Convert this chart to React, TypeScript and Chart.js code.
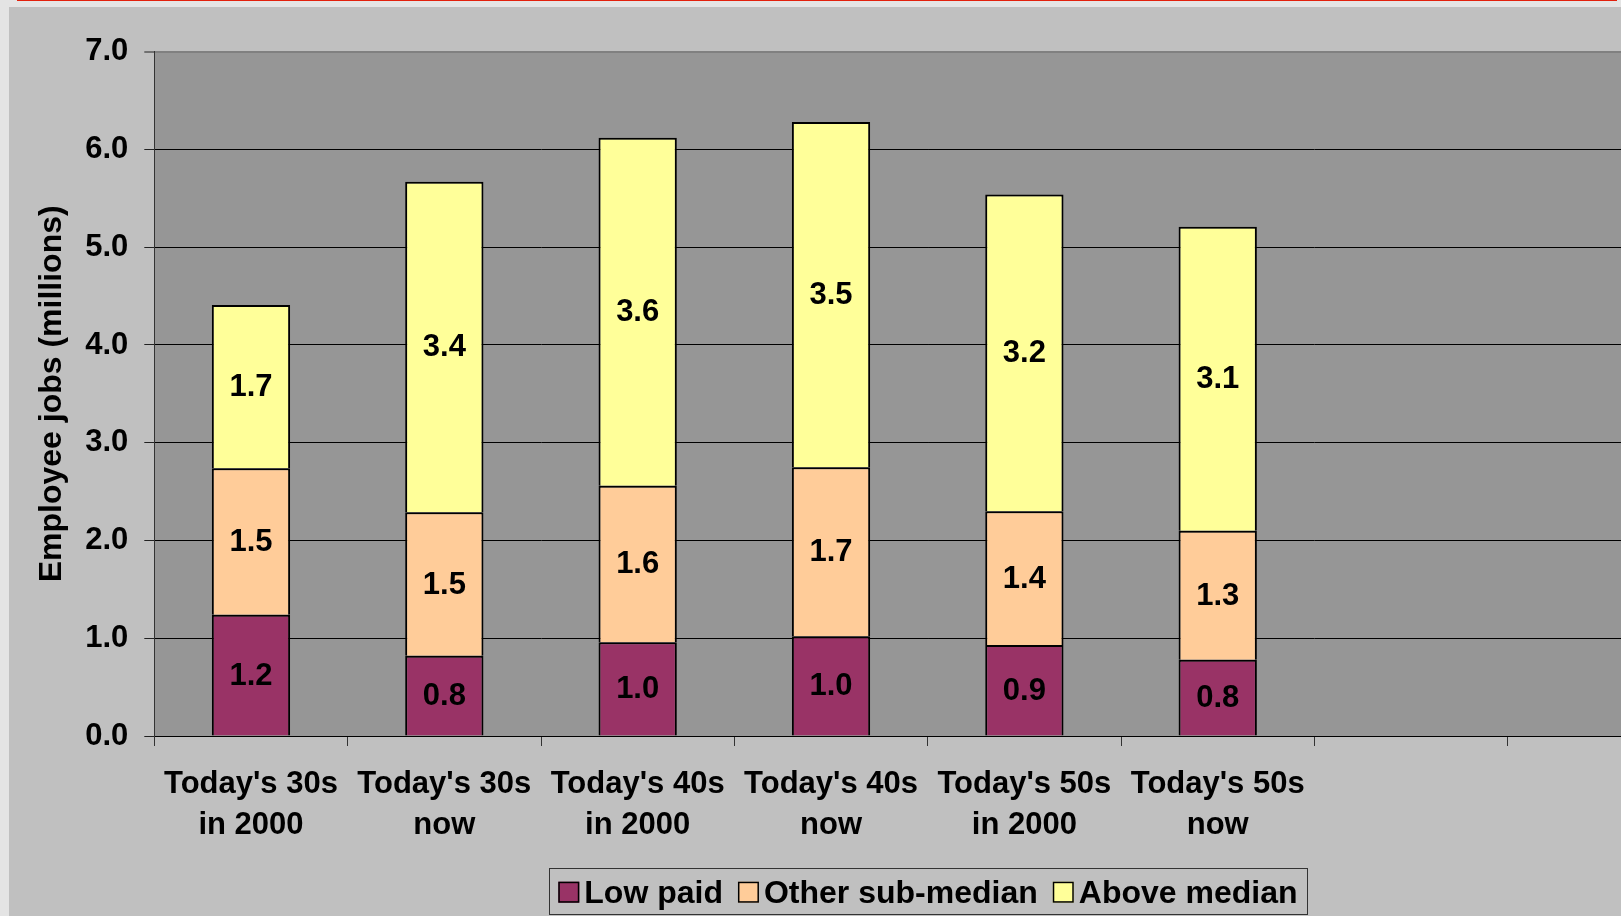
import { useEffect, useRef } from "react";
import { Chart, registerables } from "chart.js";

Chart.register(...registerables);

const FONT = '"Liberation Sans", Arial, Helvetica, sans-serif';

// Age cohorts (two empty slots keep the Excel-style spacing on the right)
const categories: (string | string[])[] = [
  ["Today's 30s", "in 2000"],
  ["Today's 30s", "now"],
  ["Today's 40s", "in 2000"],
  ["Today's 40s", "now"],
  ["Today's 50s", "in 2000"],
  ["Today's 50s", "now"],
  "",
  "",
];

// Employee jobs, millions
const lowPaid = [1.24, 0.82, 0.96, 1.02, 0.93, 0.78];
const otherSubMedian = [1.5, 1.47, 1.6, 1.73, 1.37, 1.32];
const aboveMedian = [1.67, 3.38, 3.56, 3.53, 3.24, 3.11];

const seriesNames = ["Low paid", "Other sub-median", "Above median"];
const seriesColors = ["#993366", "#FFCC99", "#FFFF99"];

const yMin = 0;
const yMax = 7;
const yStep = 1;
const yTitle = "Employee jobs (millions)";

const CANVAS_W = 1720;
const CANVAS_H = 930;

// Grey plot-area fill behind grid and bars
const plotBackground = {
  id: "plotBackground",
  beforeDraw(chart: any) {
    const { ctx, chartArea } = chart;
    const { left, top, right, bottom } = chartArea;
    ctx.save();
    ctx.fillStyle = "#969696";
    ctx.fillRect(left, top, right - left, bottom - top);
    ctx.restore();
  },
};

// Value text centred inside every stacked segment
const segmentLabels = {
  id: "segmentLabels",
  afterDatasetsDraw(chart: any) {
    const { ctx } = chart;
    ctx.save();
    ctx.font = `bold 31px ${FONT}`;
    ctx.fillStyle = "#000";
    ctx.textAlign = "center";
    ctx.textBaseline = "middle";
    chart.data.datasets.forEach((ds: any, i: number) => {
      const meta = chart.getDatasetMeta(i);
      meta.data.forEach((el: any, j: number) => {
        const v = ds.data[j];
        if (v == null) return;
        const { x, y, base } = el.getProps(["x", "y", "base"], true);
        ctx.fillText(Number(v).toFixed(1), x, (y + base) / 2 + 1);
      });
    });
    ctx.restore();
  },
};

// Boxed legend row under the axis labels
const boxedLegend = {
  id: "boxedLegend",
  afterDraw(chart: any) {
    const { ctx } = chart;
    const left = 540;
    const top = 860.5;
    const height = 46;
    const padL = 9.3;
    const padR = 10;
    const marker = 21;
    const gapText = 5;
    const gapItem = 15;
    const baseline = 895.7;

    ctx.save();
    ctx.font = `bold 32px ${FONT}`;
    const items = chart.data.datasets.map((ds: any) => ({
      text: ds.label as string,
      color: ds.backgroundColor as string,
      w: ctx.measureText(ds.label).width,
    }));
    let width = padL + padR;
    items.forEach((it: any, k: number) => {
      width += marker + gapText + it.w + (k < items.length - 1 ? gapItem : 0);
    });

    ctx.fillStyle = "#c0c0c0";
    ctx.fillRect(left, top, width, height);
    ctx.strokeStyle = "#333";
    ctx.lineWidth = 1;
    ctx.strokeRect(Math.round(left) + 0.5, Math.round(top) + 0.5, Math.round(width), Math.round(height));

    let x = left + padL;
    items.forEach((it: any) => {
      ctx.fillStyle = it.color;
      ctx.fillRect(x, baseline - marker, marker, marker);
      ctx.strokeStyle = "#000";
      ctx.lineWidth = 1.5;
      ctx.strokeRect(x + 0.75, baseline - marker + 0.75, marker - 1.5, marker - 1.5);
      x += marker + gapText;
      ctx.fillStyle = "#000";
      ctx.textAlign = "left";
      ctx.textBaseline = "alphabetic";
      ctx.fillText(it.text, x, baseline);
      x += it.w + gapItem;
    });
    ctx.restore();
  },
};

export default function App() {
  const canvasRef = useRef<HTMLCanvasElement | null>(null);

  useEffect(() => {
    if (!canvasRef.current) return;
    const series = [lowPaid, otherSubMedian, aboveMedian];
    const chart = new Chart(canvasRef.current, {
      type: "bar",
      data: {
        labels: categories,
        datasets: series.map((values, i) => ({
          label: seriesNames[i],
          data: values,
          backgroundColor: seriesColors[i],
          borderColor: "#000",
          borderWidth: { top: 2, left: 2, right: 2, bottom: 0 },
          borderSkipped: false,
          barPercentage: 0.405,
          categoryPercentage: 1,
        })),
      },
      options: {
        responsive: false,
        animation: false,
        devicePixelRatio: 1,
        layout: {
          padding: { left: 0, top: 44.7, right: 27.9, bottom: 81 },
        },
        plugins: {
          legend: { display: false },
          tooltip: { enabled: false },
          title: { display: false },
        },
        scales: {
          x: {
            stacked: true,
            afterFit: (scale: any) => {
              scale.height = 120;
            },
            grid: {
              display: true,
              drawOnChartArea: false,
              drawTicks: true,
              tickLength: 10,
              color: "#333",
              lineWidth: 1,
            },
            border: { display: true, color: "#000", width: 1 },
            ticks: {
              color: "#000",
              font: { family: FONT, size: 31, weight: "bold", lineHeight: 1.32 },
              padding: 18,
              autoSkip: false,
              maxRotation: 0,
              minRotation: 0,
            },
          },
          y: {
            stacked: true,
            min: yMin,
            max: yMax,
            afterFit: (scale: any) => {
              scale.width = 145.3;
            },
            grid: {
              color: (c: any) => (c.tick && c.tick.value === yMax ? "#808080" : "#000"),
              lineWidth: (c: any) => (c.tick && c.tick.value === yMax ? 2 : 1),
              tickColor: "#222",
              tickWidth: 1,
              tickLength: 10,
            },
            border: { display: true, color: "#333", width: 1 },
            ticks: {
              stepSize: yStep,
              color: "#000",
              padding: 16,
              font: { family: FONT, size: 31, weight: "bold" },
              callback: (v: any) => Number(v).toFixed(1),
            },
            title: {
              display: true,
              text: yTitle,
              color: "#000",
              font: { family: FONT, size: 32, weight: "bold" },
              padding: { top: 23.5, bottom: 0 },
            },
          },
        },
      },
      plugins: [plotBackground, segmentLabels, boxedLegend],
    } as any);
    return () => chart.destroy();
  }, []);

  return (
    <div
      style={{
        position: "fixed",
        inset: 0,
        overflow: "hidden",
        background: "#e4e4e4",
      }}
    >
      <div
        style={{
          position: "absolute",
          left: 17,
          top: 0,
          width: 1600,
          height: 1,
          background: "#e2200c",
        }}
      />
      <div
        style={{
          position: "absolute",
          left: 9,
          top: 7,
          width: CANVAS_W,
          height: CANVAS_H,
          background: "#c0c0c0",
        }}
      >
        <canvas
          ref={canvasRef}
          width={CANVAS_W}
          height={CANVAS_H}
          style={{ display: "block", width: CANVAS_W, height: CANVAS_H }}
        />
      </div>
    </div>
  );
}
